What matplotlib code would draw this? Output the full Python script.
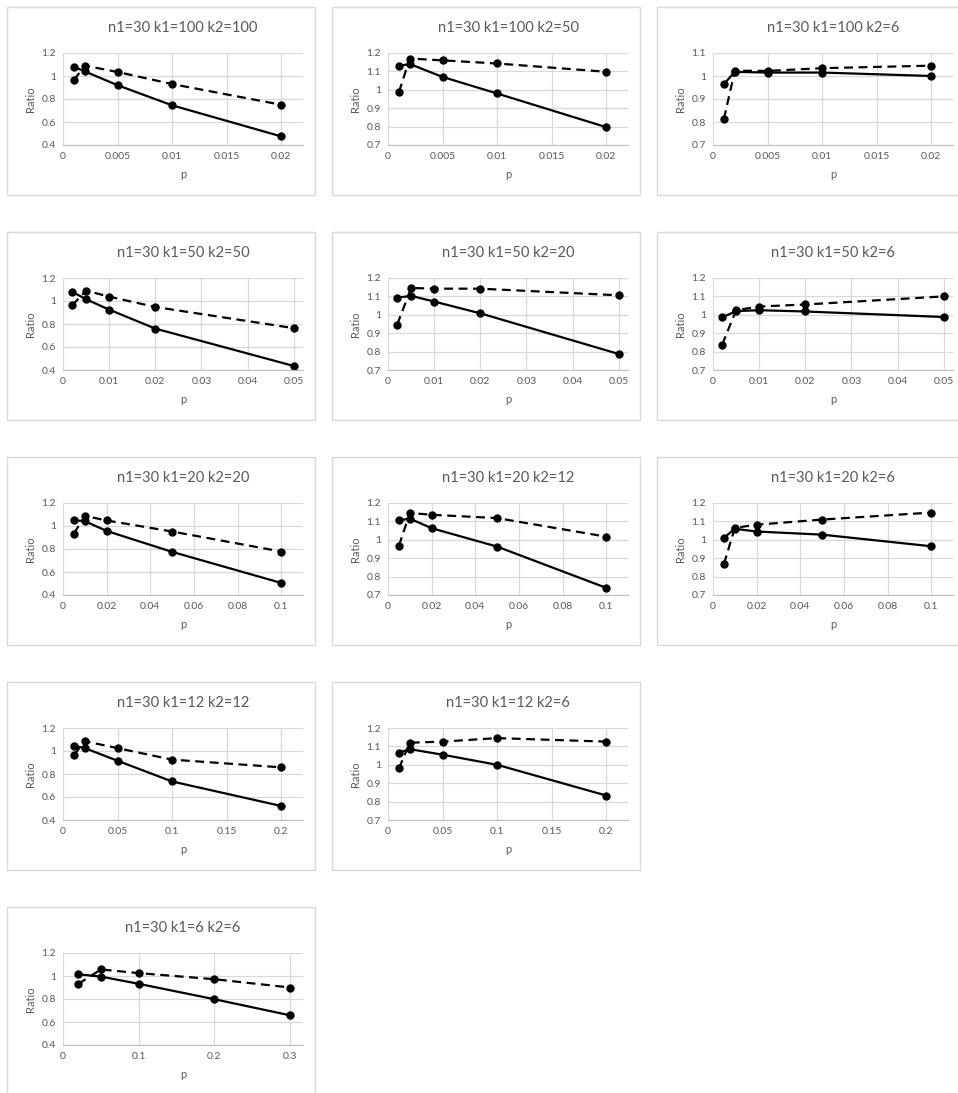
import matplotlib
matplotlib.use("Agg")
import matplotlib.pyplot as plt
from matplotlib.patches import Rectangle
from matplotlib.ticker import MultipleLocator, FuncFormatter

plt.rcParams['font.family'] = ['Lato', 'DejaVu Sans']

# panel titles
titles = ["n1=30 k1=100 k2=100", "n1=30 k1=100 k2=50", "n1=30 k1=100 k2=6",
          "n1=30 k1=50 k2=50", "n1=30 k1=50 k2=20", "n1=30 k1=50 k2=6",
          "n1=30 k1=20 k2=20", "n1=30 k1=20 k2=12", "n1=30 k1=20 k2=6",
          "n1=30 k1=12 k2=12", "n1=30 k1=12 k2=6",
          "n1=30 k1=6 k2=6"]

# p values, one list per row of panels
p_k100 = [0.001, 0.002, 0.005, 0.01, 0.02]
p_k50 = [0.002, 0.005, 0.01, 0.02, 0.05]
p_k20 = [0.005, 0.01, 0.02, 0.05, 0.1]
p_k12 = [0.01, 0.02, 0.05, 0.1, 0.2]
p_k6 = [0.02, 0.05, 0.1, 0.2, 0.3]

# solid series
solid_100_100 = [1.08, 1.04, 0.92, 0.745, 0.475]
solid_100_50 = [1.13, 1.14, 1.07, 0.98, 0.797]
solid_100_6 = [0.965, 1.018, 1.015, 1.015, 1.0]
solid_50_50 = [1.08, 1.015, 0.925, 0.76, 0.435]
solid_50_20 = [1.093, 1.103, 1.072, 1.008, 0.787]
solid_50_6 = [0.986, 1.02, 1.025, 1.018, 0.988]
solid_20_20 = [1.05, 1.042, 0.957, 0.775, 0.505]
solid_20_12 = [1.106, 1.115, 1.063, 0.963, 0.739]
solid_20_6 = [1.011, 1.06, 1.045, 1.028, 0.965]
solid_12_12 = [1.045, 1.025, 0.915, 0.735, 0.522]
solid_12_6 = [1.066, 1.085, 1.055, 1.0, 0.833]
solid_6_6 = [1.015, 0.995, 0.932, 0.798, 0.658]

# dashed series
dashed_100_100 = [0.965, 1.09, 1.035, 0.93, 0.75]
dashed_100_50 = [0.987, 1.17, 1.16, 1.143, 1.098]
dashed_100_6 = [0.813, 1.023, 1.022, 1.034, 1.045]
dashed_50_50 = [0.963, 1.09, 1.038, 0.948, 0.764]
dashed_50_20 = [0.947, 1.146, 1.142, 1.142, 1.106]
dashed_50_6 = [0.838, 1.025, 1.045, 1.056, 1.1]
dashed_20_20 = [0.934, 1.088, 1.048, 0.952, 0.778]
dashed_20_12 = [0.967, 1.146, 1.136, 1.118, 1.017]
dashed_20_6 = [0.868, 1.065, 1.082, 1.11, 1.148]
dashed_12_12 = [0.965, 1.085, 1.025, 0.925, 0.858]
dashed_12_6 = [0.98, 1.12, 1.126, 1.145, 1.126]
dashed_6_6 = [0.93, 1.057, 1.025, 0.972, 0.9]

p_lists = [p_k100, p_k100, p_k100, p_k50, p_k50, p_k50,
           p_k20, p_k20, p_k20, p_k12, p_k12, p_k6]
solids = [solid_100_100, solid_100_50, solid_100_6, solid_50_50, solid_50_20, solid_50_6,
          solid_20_20, solid_20_12, solid_20_6, solid_12_12, solid_12_6, solid_6_6]
dasheds = [dashed_100_100, dashed_100_50, dashed_100_6, dashed_50_50, dashed_50_20, dashed_50_6,
           dashed_20_20, dashed_20_12, dashed_20_6, dashed_12_12, dashed_12_6, dashed_6_6]

# axis ranges (xmax, xstep) and (ymin, ymax, ystep)
x_ranges = [(0.022, 0.005)] * 3 + [(0.052, 0.01)] * 3 + [(0.11, 0.02)] * 3 + [(0.22, 0.05)] * 2 + [(0.317, 0.1)]
y_ranges = [(0.4, 1.2, 0.2), (0.7, 1.2, 0.1), (0.7, 1.1, 0.1),
            (0.4, 1.2, 0.2), (0.7, 1.2, 0.1), (0.7, 1.2, 0.1),
            (0.4, 1.2, 0.2), (0.7, 1.2, 0.1), (0.7, 1.2, 0.1),
            (0.4, 1.2, 0.2), (0.7, 1.2, 0.1),
            (0.4, 1.2, 0.2)]

# (row, col) slot of each panel
slots = [(0, 0), (0, 1), (0, 2), (1, 0), (1, 1), (1, 2),
         (2, 0), (2, 1), (2, 2), (3, 0), (3, 1), (4, 0)]

W, H = 958, 1093
fig = plt.figure(figsize=(W / 100, H / 100), dpi=100)

box_left = [7, 332, 657]
box_top = [7, 232, 457, 682, 907]
box_w, box_h = 308, 188
grid_c = "#d9d9d9"
text_c = "#595959"

fmt = FuncFormatter(lambda v, pos: f"{v:g}")

for i, title in enumerate(titles):
    r, c = slots[i]
    bx, by = box_left[c], box_top[r]
    fig.add_artist(Rectangle((bx / W, 1 - (by + box_h) / H), box_w / W, box_h / H,
                             transform=fig.transFigure, fill=False,
                             edgecolor=grid_c, linewidth=1))
    ax = fig.add_axes([(bx + 56) / W, 1 - (by + 138) / H, 240 / W, 92 / H])
    xmax, xstep = x_ranges[i]
    ymin, ymax, ystep = y_ranges[i]
    ax.set_xlim(0, xmax)
    ax.set_ylim(ymin, ymax)
    ax.xaxis.set_major_locator(MultipleLocator(xstep))
    ax.yaxis.set_major_locator(MultipleLocator(ystep))
    ax.xaxis.set_major_formatter(fmt)
    ax.yaxis.set_major_formatter(fmt)
    ax.grid(True, color=grid_c, linewidth=0.9)
    ax.set_axisbelow(True)
    for s in ["top", "right", "left"]:
        ax.spines[s].set_visible(False)
    ax.spines["bottom"].set_color("#bfbfbf")
    ax.tick_params(length=0, labelsize=7.5, colors=text_c, pad=5)

    ax.plot(p_lists[i], solids[i], color="black", linewidth=1.6,
            marker="o", markersize=5)
    ax.plot(p_lists[i], dasheds[i], color="black", linewidth=1.6,
            linestyle=(0, (4, 2.5)), marker="o", markersize=5)

    ax.set_title(title, fontsize=10.5, color=text_c, pad=15)
    ax.set_xlabel("p", fontsize=8, color=text_c, labelpad=6)
    ax.set_ylabel("Ratio", fontsize=8, color=text_c, labelpad=4)

fig.savefig("out.png", dpi=100)
